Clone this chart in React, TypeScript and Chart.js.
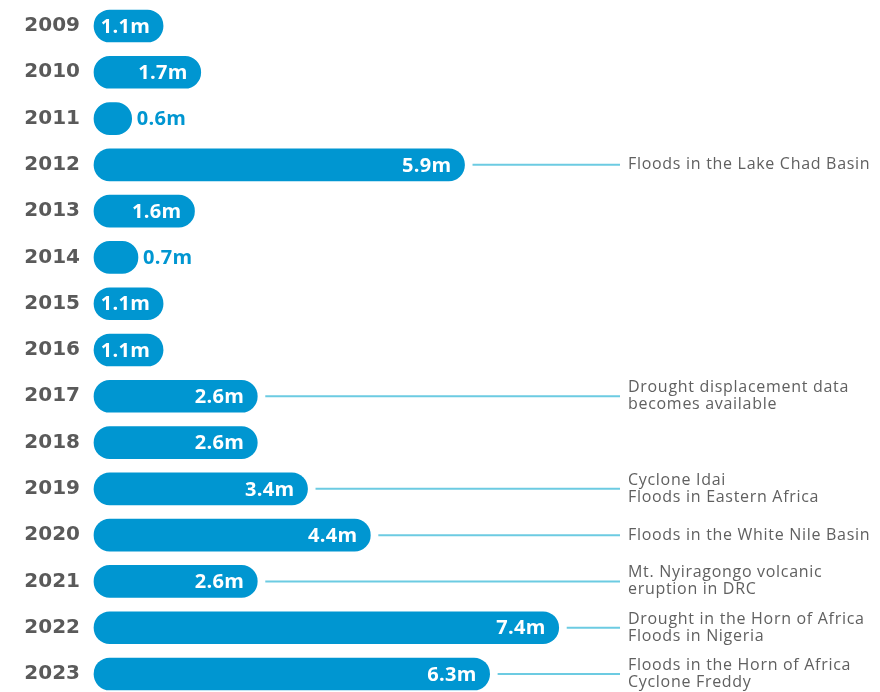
import React, { useEffect, useRef } from "react";
import { Chart, registerables } from "chart.js";

Chart.register(...registerables);

const years = ["2009","2010","2011","2012","2013","2014","2015","2016","2017","2018","2019","2020","2021","2022","2023"];
const displaced = [1.1, 1.7, 0.6, 5.9, 1.6, 0.7, 1.1, 1.1, 2.6, 2.6, 3.4, 4.4, 2.6, 7.4, 6.3];
const valueLabels = ["1.1m","1.7m","0.6m","5.9m","1.6m","0.7m","1.1m","1.1m","2.6m","2.6m","3.4m","4.4m","2.6m","7.4m","6.3m"];
const annotations: string[][] = [
  [], [], [],
  ["Floods in the Lake Chad Basin"],
  [], [], [], [],
  ["Drought displacement data", "becomes available"],
  [],
  ["Cyclone Idai", "Floods in Eastern Africa"],
  ["Floods in the White Nile Basin"],
  ["Mt. Nyiragongo volcanic", "eruption in DRC"],
  ["Drought in the Horn of Africa", "Floods in Nigeria"],
  ["Floods in the Horn of Africa", "Cyclone Freddy"],
];

const BAR = "#0096d1";
const LINE = "#6ccbe2";
const TEXT = "#5a5a5a";

const labelPlugin = {
  id: "labelPlugin",
  afterDatasetsDraw(chart: any) {
    const ctx = chart.ctx;
    const meta = chart.getDatasetMeta(0);
    ctx.save();
    meta.data.forEach((bar: any, i: number) => {
      const x = bar.x;
      const y = bar.y;
      const v = displaced[i];
      ctx.font = "bold 20px 'Open Sans'";
      ctx.textBaseline = "middle";
      (ctx as any).letterSpacing = "0.3px";
      if (v < 1) {
        ctx.fillStyle = BAR;
        ctx.textAlign = "left";
        ctx.fillText(valueLabels[i], x + 5, y + 1);
      } else {
        ctx.fillStyle = "#ffffff";
        ctx.textAlign = "right";
        ctx.fillText(valueLabels[i], x - 13, y + 1);
      }
      const ann = annotations[i];
      if (ann.length) {
        ctx.strokeStyle = LINE;
        ctx.lineWidth = 2;
        ctx.beginPath();
        ctx.moveTo(x + 8, y);
        ctx.lineTo(620, y);
        ctx.stroke();
        ctx.fillStyle = "#606060";
        ctx.textAlign = "left";
        ctx.font = "16px 'Open Sans'";
        (ctx as any).letterSpacing = "0.7px";
        const lh = 17;
        const start = y - ((ann.length - 1) * lh) / 2;
        ann.forEach((t, k) => ctx.fillText(t, 628, start + k * lh));
      }
    });
    ctx.restore();
  },
};

export default function App() {
  const ref = useRef<HTMLCanvasElement>(null);
  useEffect(() => {
    const chart = new Chart(ref.current!, {
      type: "bar",
      data: {
        labels: years,
        datasets: [
          {
            data: displaced,
            backgroundColor: BAR,
            borderRadius: 16,
            borderSkipped: false,
            barThickness: 32,
            clip: false as any,
          },
        ],
      },
      options: {
        indexAxis: "y",
        responsive: false,
        animation: false,
        layout: { padding: { top: 26, bottom: 3, left: 0, right: 158 } },
        plugins: { legend: { display: false }, tooltip: { enabled: false } },
        scales: {
          x: { display: false, min: 0, max: 10 },
          y: {
            type: "category",
            offset: false,
            grid: { display: false },
            border: { display: false },
            ticks: {
              padding: 6,
              color: TEXT,
              font: { family: "'DejaVu Sans'", weight: "bold", size: 20 },
            },
            afterFit: (s: any) => {
              s.width = 94;
            },
          },
        },
      },
      plugins: [labelPlugin],
    });
    return () => chart.destroy();
  }, []);
  return (
    <div style={{ position: "fixed", left: 0, top: 0, width: 880, height: 692, background: "#fff" }}>
      <canvas ref={ref} width={880} height={692} />
    </div>
  );
}
